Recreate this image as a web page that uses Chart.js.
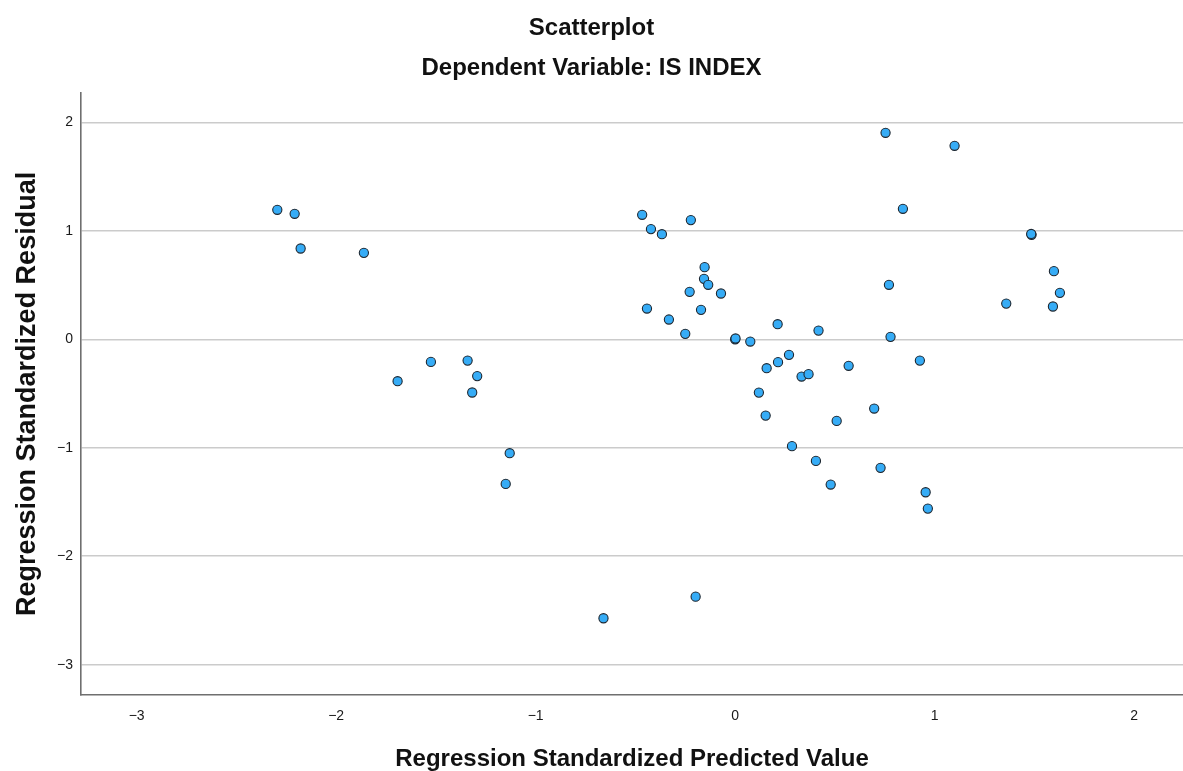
<!DOCTYPE html>
<html>
<head>
<meta charset="utf-8">
<title>Scatterplot</title>
<script src="https://cdn.jsdelivr.net/npm/chart.js@4"></script>
<style>
  html, body { margin: 0; padding: 0; background: #ffffff; }
  #wrap { width: 1183px; height: 771px; position: relative; }
</style>
</head>
<body>
<div id="wrap"><canvas id="chart"></canvas></div>
<script>
// Regression standardized predicted values (x) and standardized residuals (y)
const predicted = [
  -2.295, -2.208, -2.178, -1.861, -1.692, -1.525, -1.341, -1.293, -1.318, -1.130,
  -1.150, -0.660, -0.198,
  -0.466, -0.422, -0.367, -0.442, -0.222, -0.153, -0.156, -0.135, -0.228, -0.071,
  -0.332, -0.171, -0.250, 0.000, 0.002, 0.076, 0.213, 0.418, 0.158, 0.215, 0.270,
  0.333, 0.368, 0.119, 0.153, 0.509, 0.285, 0.405, 0.479,
  0.754, 1.100, 0.841, 1.486, 1.484, 0.771, 1.598, 1.628, 1.359, 1.593, 0.779,
  0.569, 0.926, 0.697, 0.729, 0.955, 0.966
];
const residual = [
  1.195, 1.158, 0.838, 0.798, -0.386, -0.208, -0.196, -0.339, -0.490, -1.050,
  -1.333, -2.572, -2.373,
  1.149, 1.017, 0.970, 0.284, 1.100, 0.666, 0.558, 0.503, 0.438, 0.423,
  0.183, 0.272, 0.051, 0.000, 0.008, -0.020, 0.140, 0.081, -0.266, -0.210, -0.143,
  -0.343, -0.321, -0.491, -0.703, -0.752, -0.985, -1.121, -1.339,
  1.905, 1.785, 1.204, 0.964, 0.972, 0.503, 0.629, 0.429, 0.330, 0.303, 0.023,
  -0.244, -0.196, -0.638, -1.185, -1.410, -1.561
];

const xTicks = [-3, -2, -1, 0, 1, 2];
const yTicks = [-3, -2, -1, 0, 1, 2];

const titleText = 'Scatterplot';
const subtitleText = 'Dependent Variable: IS INDEX';
const xTitle = 'Regression Standardized Predicted Value';
const yTitle = 'Regression Standardized Residual';

const points = predicted.map((x, i) => ({ x: x, y: residual[i] }));

const fmt = v => String(v).replace('-', '\u2212');
const FONT = "'Liberation Sans', Arial, sans-serif";

new Chart(document.getElementById('chart'), {
  type: 'scatter',
  data: {
    datasets: [{
      data: points,
      backgroundColor: '#36acf6',
      borderColor: '#1d2731',
      borderWidth: 1.1,
      pointRadius: 4.6,
      pointHoverRadius: 4.6
    }]
  },
  options: {
    responsive: true,
    maintainAspectRatio: false,
    animation: false,
    layout: { padding: 0, autoPadding: false },
    plugins: {
      legend: { display: false },
      tooltip: { enabled: false },
      title: {
        display: true,
        text: titleText,
        color: '#111111',
        font: { family: FONT, size: 24, weight: 'bold' },
        padding: { top: 14, bottom: 0 }
      },
      subtitle: {
        display: true,
        text: subtitleText,
        color: '#111111',
        font: { family: FONT, size: 24, weight: 'bold' },
        padding: { top: 11, bottom: 10.2 }
      }
    },
    scales: {
      x: {
        type: 'linear',
        min: -3.279,
        max: 2.245,
        afterBuildTicks: s => { s.ticks = xTicks.map(v => ({ value: v })); },
        afterFit: s => { s.height = 76; s.paddingLeft = 0; s.paddingRight = 0; },
        grid: { display: false, drawTicks: false },
        border: { display: true, color: '#6f6f6f', width: 1.6 },
        ticks: {
          padding: 13,
          color: '#1a1a1a',
          font: { family: FONT, size: 14 },
          callback: v => fmt(v),
          maxRotation: 0
        },
        title: {
          display: true,
          text: xTitle,
          color: '#111111',
          font: { family: FONT, size: 24, weight: 'bold' },
          padding: { top: 0, bottom: -3 }
        }
      },
      y: {
        type: 'linear',
        min: -3.280,
        max: 2.274,
        afterBuildTicks: s => { s.ticks = yTicks.map(v => ({ value: v })); },
        afterFit: s => { s.width = 81; s.paddingTop = 0; s.paddingBottom = 0; },
        grid: { display: true, drawTicks: false, color: '#cbcbcb', lineWidth: 1.6 },
        border: { display: true, color: '#6f6f6f', width: 1.6 },
        ticks: {
          padding: 8,
          color: '#1a1a1a',
          font: { family: FONT, size: 14 },
          callback: v => fmt(v)
        },
        title: {
          display: true,
          text: yTitle,
          color: '#111111',
          font: { family: FONT, size: 27, weight: 'bold' },
          padding: { top: 11, bottom: 0 }
        }
      }
    }
  }
});
</script>
</body>
</html>
